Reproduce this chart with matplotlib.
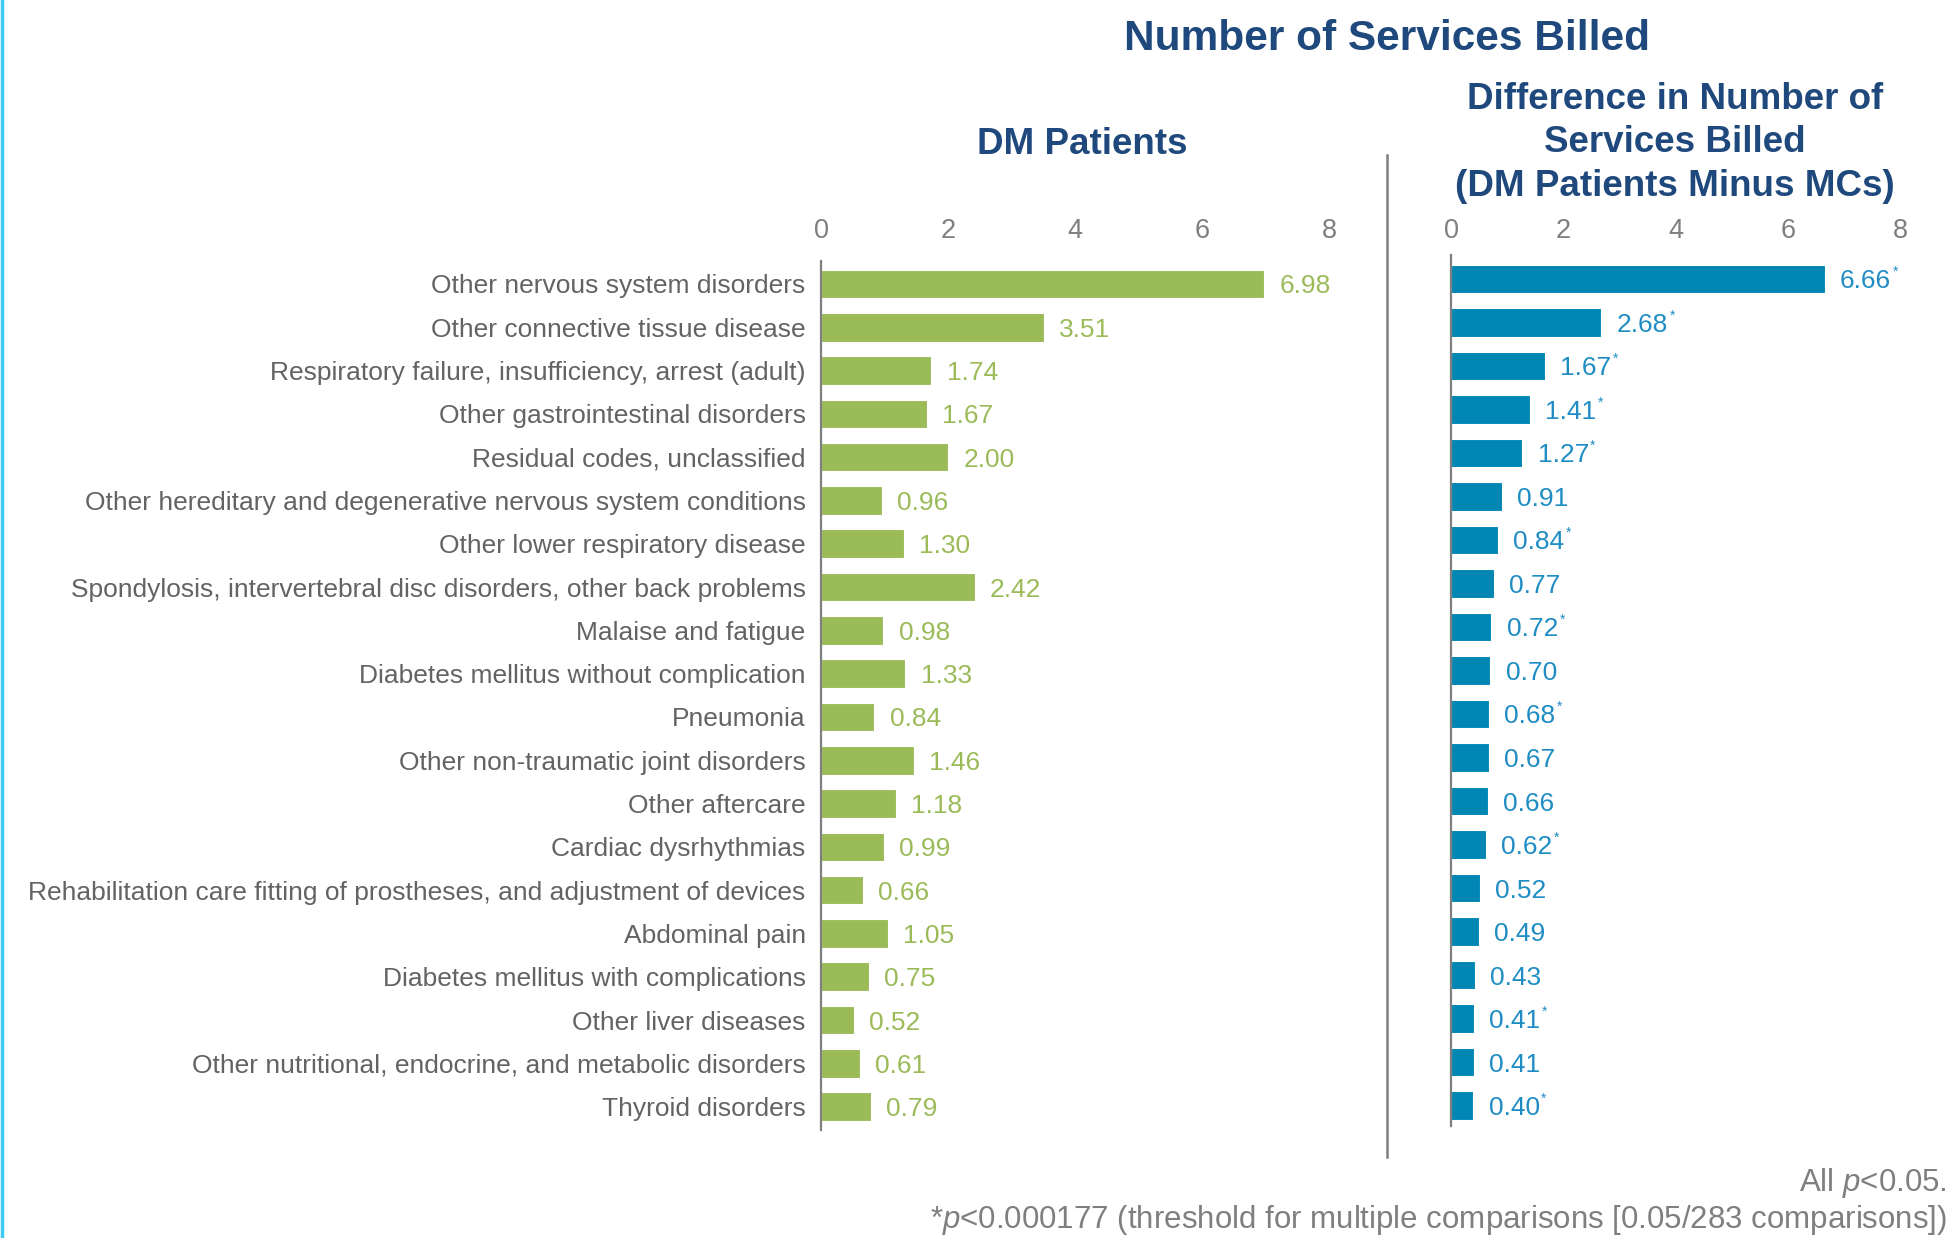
import matplotlib
matplotlib.use("Agg")
import matplotlib.pyplot as plt
from matplotlib.lines import Line2D

plt.rcParams["font.family"] = ["Liberation Sans", "DejaVu Sans"]
plt.rcParams["mathtext.fontset"] = "custom"
plt.rcParams["mathtext.rm"] = "Liberation Sans"
plt.rcParams["mathtext.it"] = "Liberation Sans:italic"

categories = [
    "Other nervous system disorders",
    "Other connective tissue disease",
    "Respiratory failure, insufficiency, arrest (adult)",
    "Other gastrointestinal disorders",
    "Residual codes, unclassified",
    "Other hereditary and degenerative nervous system conditions",
    "Other lower respiratory disease",
    "Spondylosis, intervertebral disc disorders, other back problems",
    "Malaise and fatigue",
    "Diabetes mellitus without complication",
    "Pneumonia",
    "Other non-traumatic joint disorders",
    "Other aftercare",
    "Cardiac dysrhythmias",
    "Rehabilitation care fitting of prostheses, and adjustment of devices",
    "Abdominal pain",
    "Diabetes mellitus with complications",
    "Other liver diseases",
    "Other nutritional, endocrine, and metabolic disorders",
    "Thyroid disorders",
]
dm_patients = [6.98, 3.51, 1.74, 1.67, 2.00, 0.96, 1.30, 2.42, 0.98, 1.33,
               0.84, 1.46, 1.18, 0.99, 0.66, 1.05, 0.75, 0.52, 0.61, 0.79]
difference = [6.66, 2.68, 1.67, 1.41, 1.27, 0.91, 0.84, 0.77, 0.72, 0.70,
              0.68, 0.67, 0.66, 0.62, 0.52, 0.49, 0.43, 0.41, 0.41, 0.40]
significant = [1, 1, 1, 1, 1, 0, 1, 0, 1, 0, 1, 0, 0, 1, 0, 0, 0, 1, 0, 1]
ticks = [0, 2, 4, 6, 8]

GREEN = "#9BBB59"
BLUE = "#0086B3"
BLUE_TXT = "#1F8DC4"
NAVY = "#1F497D"
GREY = "#7F7F7F"
LABEL_GREY = "#636363"

W, H = 1951, 1238
fig = plt.figure(figsize=(W / 100, H / 100), dpi=100)

ax1 = fig.add_axes([821 / W, 1 - 1130 / H, 508 / W, (1130 - 261) / H])
ax2 = fig.add_axes([1451 / W, 1 - 1126 / H, 449 / W, (1126 - 255) / H])

ypos = list(range(len(categories)))


def style_axis(ax, ylim, pad):
    ax.set_xlim(0, 8)
    ax.set_ylim(*ylim)
    ax.xaxis.tick_top()
    ax.set_xticks(ticks)
    ax.set_xticklabels([str(t) for t in ticks])
    ax.tick_params(axis="x", length=0, pad=pad, labelsize=19.5, labelcolor=GREY)
    for s in ["top", "right", "bottom"]:
        ax.spines[s].set_visible(False)
    ax.spines["left"].set_color(GREY)
    ax.spines["left"].set_linewidth(1.6)


# left panel: DM patients
ax1.barh(ypos, dm_patients, height=0.66, color=GREEN, edgecolor="white", linewidth=0.8)
style_axis(ax1, (19.54, -0.53), 12)
ax1.set_yticks(ypos)
ax1.set_yticklabels(categories)
ax1.tick_params(axis="y", length=0, pad=11, labelsize=19, labelcolor=LABEL_GREY)
for y, v in zip(ypos, dm_patients):
    ax1.annotate(f"{v:.2f}", xy=(v, y), xytext=(11, 0), textcoords="offset points",
                 va="center_baseline", ha="left", fontsize=19, color=GREEN)

# right panel: difference
ax2.barh(ypos, difference, height=0.66, color=BLUE, edgecolor="white", linewidth=0.8)
style_axis(ax2, (19.47, -0.55), 8)
ax2.set_yticks([])
for y, v, s in zip(ypos, difference, significant):
    t = ax2.annotate(f"{v:.2f}", xy=(v, y), xytext=(11, 0), textcoords="offset points",
                     va="center_baseline", ha="left", fontsize=19, color=BLUE_TXT)
    if s:
        ax2.annotate("*", xy=(1, 0.6), xycoords=t, xytext=(1, 0), textcoords="offset points",
                     va="bottom", ha="left", fontsize=10, color=BLUE_TXT)

# titles
fig.text(1387 / W, 1 - 39 / H, "Number of Services Billed", ha="center", va="center",
         fontsize=30.5, fontweight="bold", color=NAVY)
fig.text(1082 / W, 1 - 144 / H, "DM Patients", ha="center", va="center",
         fontsize=26.5, fontweight="bold", color=NAVY)
fig.text(1675 / W, 1 - 143 / H, "Difference in Number of\nServices Billed\n(DM Patients Minus MCs)",
         ha="center", va="center", fontsize=26.5, fontweight="bold", color=NAVY,
         linespacing=1.3)

# separator and left border
fig.add_artist(Line2D([1387 / W, 1387 / W], [1 - 155 / H, 1 - 1157 / H], color=GREY, linewidth=1.8))
fig.add_artist(Line2D([2 / W, 2 / W], [0, 1], color="#3CCBF4", linewidth=2.5))

# footnotes
fig.text(1947 / W, 1 - 1183 / H, "All $\\mathit{p}$<0.05.", ha="right", va="center",
         fontsize=22.5, color=GREY)
fig.text(1947 / W, 1 - 1220 / H,
         "*$\\mathit{p}$<0.000177 (threshold for multiple comparisons [0.05/283 comparisons])",
         ha="right", va="center", fontsize=22.5, color=GREY)

fig.savefig("out.png", dpi=100, facecolor="white")
